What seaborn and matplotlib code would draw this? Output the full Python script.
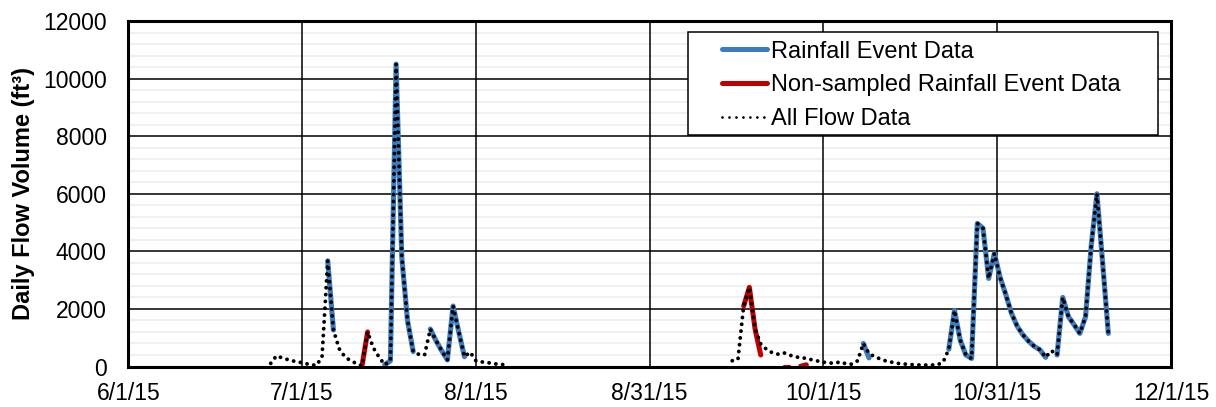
import numpy as np
import pandas as pd
import matplotlib
matplotlib.use("Agg")
import matplotlib.pyplot as plt
import matplotlib.dates as mdates
from matplotlib.patches import Rectangle
from matplotlib.lines import Line2D
from matplotlib.ticker import MultipleLocator
import seaborn as sns

# ---------------- data ----------------
flow_start_1 = "2015-06-26"
flow_vals_1 = [110, 370, 300, 240, 190, 150, 110, 60, 40, 320,
               3670, 1270, 620, 340, 200, 110, 20, 1200, 650, 330,
               60, 200, 10500, 3800, 1600, 520, 420, 400, 1300, 900,
               550, 230, 2100, 1200, 340, 500, 200, 160, 140, 100,
               80, 60]
flow_start_2 = "2015-09-15"
flow_vals_2 = [200, 250, 2100, 2750, 1300, 780, 600, 480, 430, 480,
               400, 340, 305, 285, 230, 190, 150, 120, 120, 160,
               90, 80, 200, 800, 450, 340, 260, 190, 150, 110,
               90, 70, 60, 50, 50, 50, 60, 150, 600, 1950,
               920, 400, 280, 4970, 4800, 3060, 3930, 3100, 2500, 1850,
               1400, 1100, 880, 700, 580, 320, 550, 400, 2400, 1730,
               1450, 1150, 1730, 4200, 6000, 3600, 1150]

rain_starts = ["2015-07-06", "2015-07-16", "2015-07-24", "2015-10-08",
               "2015-10-23", "2015-11-11"]
rain_vals = [
    [3670, 1270],
    [60, 200, 10500, 3800, 1600, 520],
    [1300, 900, 550, 230, 2100, 1200, 340],
    [800, 300],
    [600, 1950, 920, 400, 280, 4970, 4800, 3060, 3930, 3100, 2500, 1850,
     1400, 1100, 880, 700, 580, 320],
    [400, 2400, 1730, 1450, 1150, 1730, 4200, 6000, 3600, 1150],
]

nonsampled_starts = ["2015-07-12", "2015-09-17", "2015-09-24", "2015-09-27"]
nonsampled_vals = [
    [0, 1200],
    [2100, 2750, 1300, 400],
    [0, 0],
    [10, 60],
]

x_tick_labels = ["6/1/15", "7/1/15", "8/1/15", "8/31/15", "10/1/15",
                 "10/31/15", "12/1/15"]
y_ticks = [0, 2000, 4000, 6000, 8000, 10000, 12000]
legend_labels = ["Rainfall Event Data", "Non-sampled Rainfall Event Data",
                 "All Flow Data"]
y_label = "Daily Flow Volume (ft\u00b3)"


def segments_frame(starts, vals):
    parts = []
    for i, (s, v) in enumerate(zip(starts, vals)):
        parts.append(pd.DataFrame({
            "date": pd.date_range(s, periods=len(v), freq="D"),
            "value": v,
            "seg": i,
        }))
    return pd.concat(parts, ignore_index=True)


flow_df = segments_frame([flow_start_1, flow_start_2], [flow_vals_1, flow_vals_2])
rain_df = segments_frame(rain_starts, rain_vals)
ns_df = segments_frame(nonsampled_starts, nonsampled_vals)

# ---------------- style ----------------
sns.set_theme(style="white")
plt.rcParams["font.family"] = ["Liberation Sans", "DejaVu Sans"]

BLUE = "#3A7CC0"
RED = "#C00000"
DOT_STYLE = (0, (0.01, 1.75))

fig = plt.figure(figsize=(12.16, 4.07), dpi=100)
ax = fig.add_axes([0.1055, 0.0995, 0.8575, 0.8489])

sns.lineplot(data=rain_df, x="date", y="value", units="seg", estimator=None,
             color=BLUE, lw=3.7, ax=ax, legend=False,
             solid_capstyle="round", solid_joinstyle="round", zorder=3)
sns.lineplot(data=ns_df, x="date", y="value", units="seg", estimator=None,
             color=RED, lw=3.6, ax=ax, legend=False,
             solid_capstyle="round", solid_joinstyle="round", zorder=3)
sns.lineplot(data=flow_df, x="date", y="value", units="seg", estimator=None,
             color="black", lw=2.8, linestyle=DOT_STYLE, dash_capstyle="round",
             ax=ax, legend=False, zorder=3.5)

# ---------------- axes ----------------
x0 = mdates.date2num(pd.Timestamp("2015-06-01"))
ax.set_xlim(x0, x0 + 183)
ax.set_xticks([x0 + 30.5 * k for k in range(len(x_tick_labels))])
ax.set_xticklabels(x_tick_labels)
ax.set_ylim(0, 12000)
ax.set_yticks(y_ticks)
ax.set_yticklabels([str(v) for v in y_ticks])
ax.yaxis.set_minor_locator(MultipleLocator(400))

ax.set_axisbelow(True)
ax.yaxis.set_zorder(0.4)   # keep light minor lines under the vertical grid
ax.grid(which="minor", axis="y", color="#eeeeee", lw=1.2)
ax.grid(which="major", axis="both", color="black", lw=1.1)

ax.tick_params(axis="y", which="both", length=0, pad=15.5, labelsize=16.5,
               colors="black")
ax.tick_params(axis="x", which="major", direction="in", length=4, width=2,
               pad=11.5, labelsize=16.5, colors="black")
for sp in ax.spines.values():
    sp.set_visible(True)
    sp.set_color("black")
    sp.set_linewidth(2.2)
    sp.set_zorder(6)

ax.set_xlabel("")
ax.set_ylabel(y_label, fontsize=17, fontweight="bold", color="black")
ax.yaxis.set_label_coords(-0.089, 0.5)

# ---------------- legend ----------------
ax.add_patch(Rectangle((0.5368, 0.670), 0.4508, 0.299, transform=ax.transAxes,
                       facecolor="white", edgecolor="black", lw=1.1,
                       zorder=4.5, clip_on=False))
handles = [
    Line2D([], [], color=BLUE, lw=3.6, solid_capstyle="round"),
    Line2D([], [], color=RED, lw=3.6, solid_capstyle="round"),
    Line2D([], [], color="black", lw=2.0, linestyle=(0, (0.01, 2.5)),
           dash_capstyle="round"),
]
leg = ax.legend(handles, legend_labels, loc="upper left",
                bbox_to_anchor=(721.7 / 1216, 1 - 40.5 / 407),
                bbox_transform=fig.transFigure, frameon=False,
                borderpad=0, borderaxespad=0, handlelength=1.9,
                handletextpad=0.2, labelspacing=0.5, fontsize=17)
leg.set_zorder(5)
for t in leg.get_texts():
    t.set_color("black")

fig.savefig("out.png", dpi=100)
